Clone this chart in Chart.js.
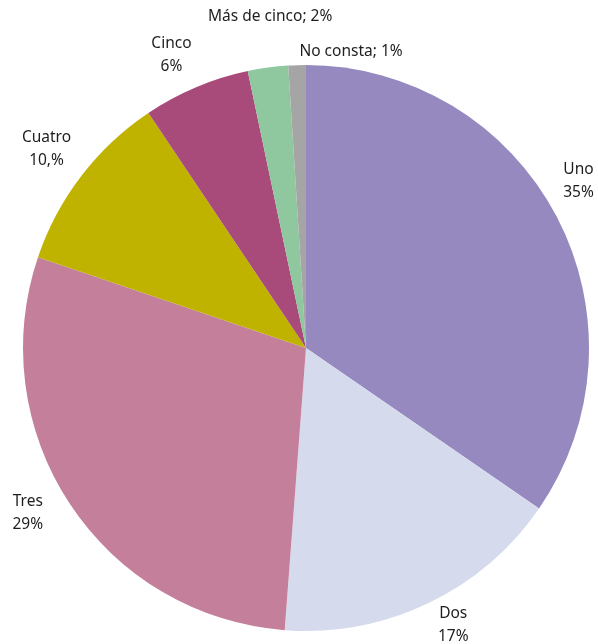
<!DOCTYPE html>
<html>
<head>
<meta charset="utf-8">
<script src="https://cdn.jsdelivr.net/npm/chart.js@4/dist/chart.umd.min.js"></script>
<style>
  html, body { margin: 0; padding: 0; background: #fff; }
  #wrap { width: 598px; height: 644px; position: relative; }
</style>
</head>
<body>
<div id="wrap"><canvas id="pieChart"></canvas></div>
<script>
const categories = ["Uno", "Dos", "Tres", "Cuatro", "Cinco", "Más de cinco", "No consta"];
const shares = [34.6, 16.6, 29.0, 10.4, 6.1, 2.3, 1.0];
const shareLabels = ["35%", "17%", "29%", "10,%", "6%", "2%", "1%"];
const sliceColors = ["#9589bf", "#d5dbec", "#c47f9b", "#bfb300", "#a94b7a", "#8fc89f", "#a5a5a5"];

// small tweaks so the outside labels sit where the original ones do
const labelNudge = [[-9, -19], [10, -10], [-13, -10], [-7, -6], [-11, 0], [7, -16], [55, 21]];
const oneLine = [false, false, false, false, false, true, true];

const outsideLabels = {
    id: "outsideLabels",
    afterDatasetsDraw(chart) {
        const ctx = chart.ctx;
        const meta = chart.getDatasetMeta(0);
        ctx.save();
        ctx.font = "15.5px 'Noto Sans', sans-serif";
        ctx.fillStyle = "#1e1e1e";
        ctx.textAlign = "center";
        ctx.textBaseline = "middle";
        meta.data.forEach(function (arc, i) {
            const mid = (arc.startAngle + arc.endAngle) / 2;
            const r = arc.outerRadius + 35;
            const x = arc.x + Math.cos(mid) * r + labelNudge[i][0];
            const y = arc.y + Math.sin(mid) * r + labelNudge[i][1];
            if (oneLine[i]) {
                ctx.fillText(categories[i] + "; " + shareLabels[i], x, y);
            } else {
                ctx.fillText(categories[i], x, y - 11.5);
                ctx.fillText(shareLabels[i], x, y + 11.5);
            }
        });
        ctx.restore();
    }
};

document.addEventListener("DOMContentLoaded", function () {
    const ctx = document.getElementById("pieChart").getContext("2d");

    new Chart(ctx, {
        type: "pie",
        data: {
            labels: categories,
            datasets: [{
                data: shares,
                backgroundColor: sliceColors,
                borderWidth: 0
            }]
        },
        options: {
            responsive: true,
            maintainAspectRatio: false,
            animation: false,
            layout: {
                padding: { left: 23, right: 9, top: 65, bottom: 13 }
            },
            plugins: {
                legend: { display: false },
                tooltip: { enabled: false }
            }
        },
        plugins: [outsideLabels]
    });
});
</script>
</body>
</html>
